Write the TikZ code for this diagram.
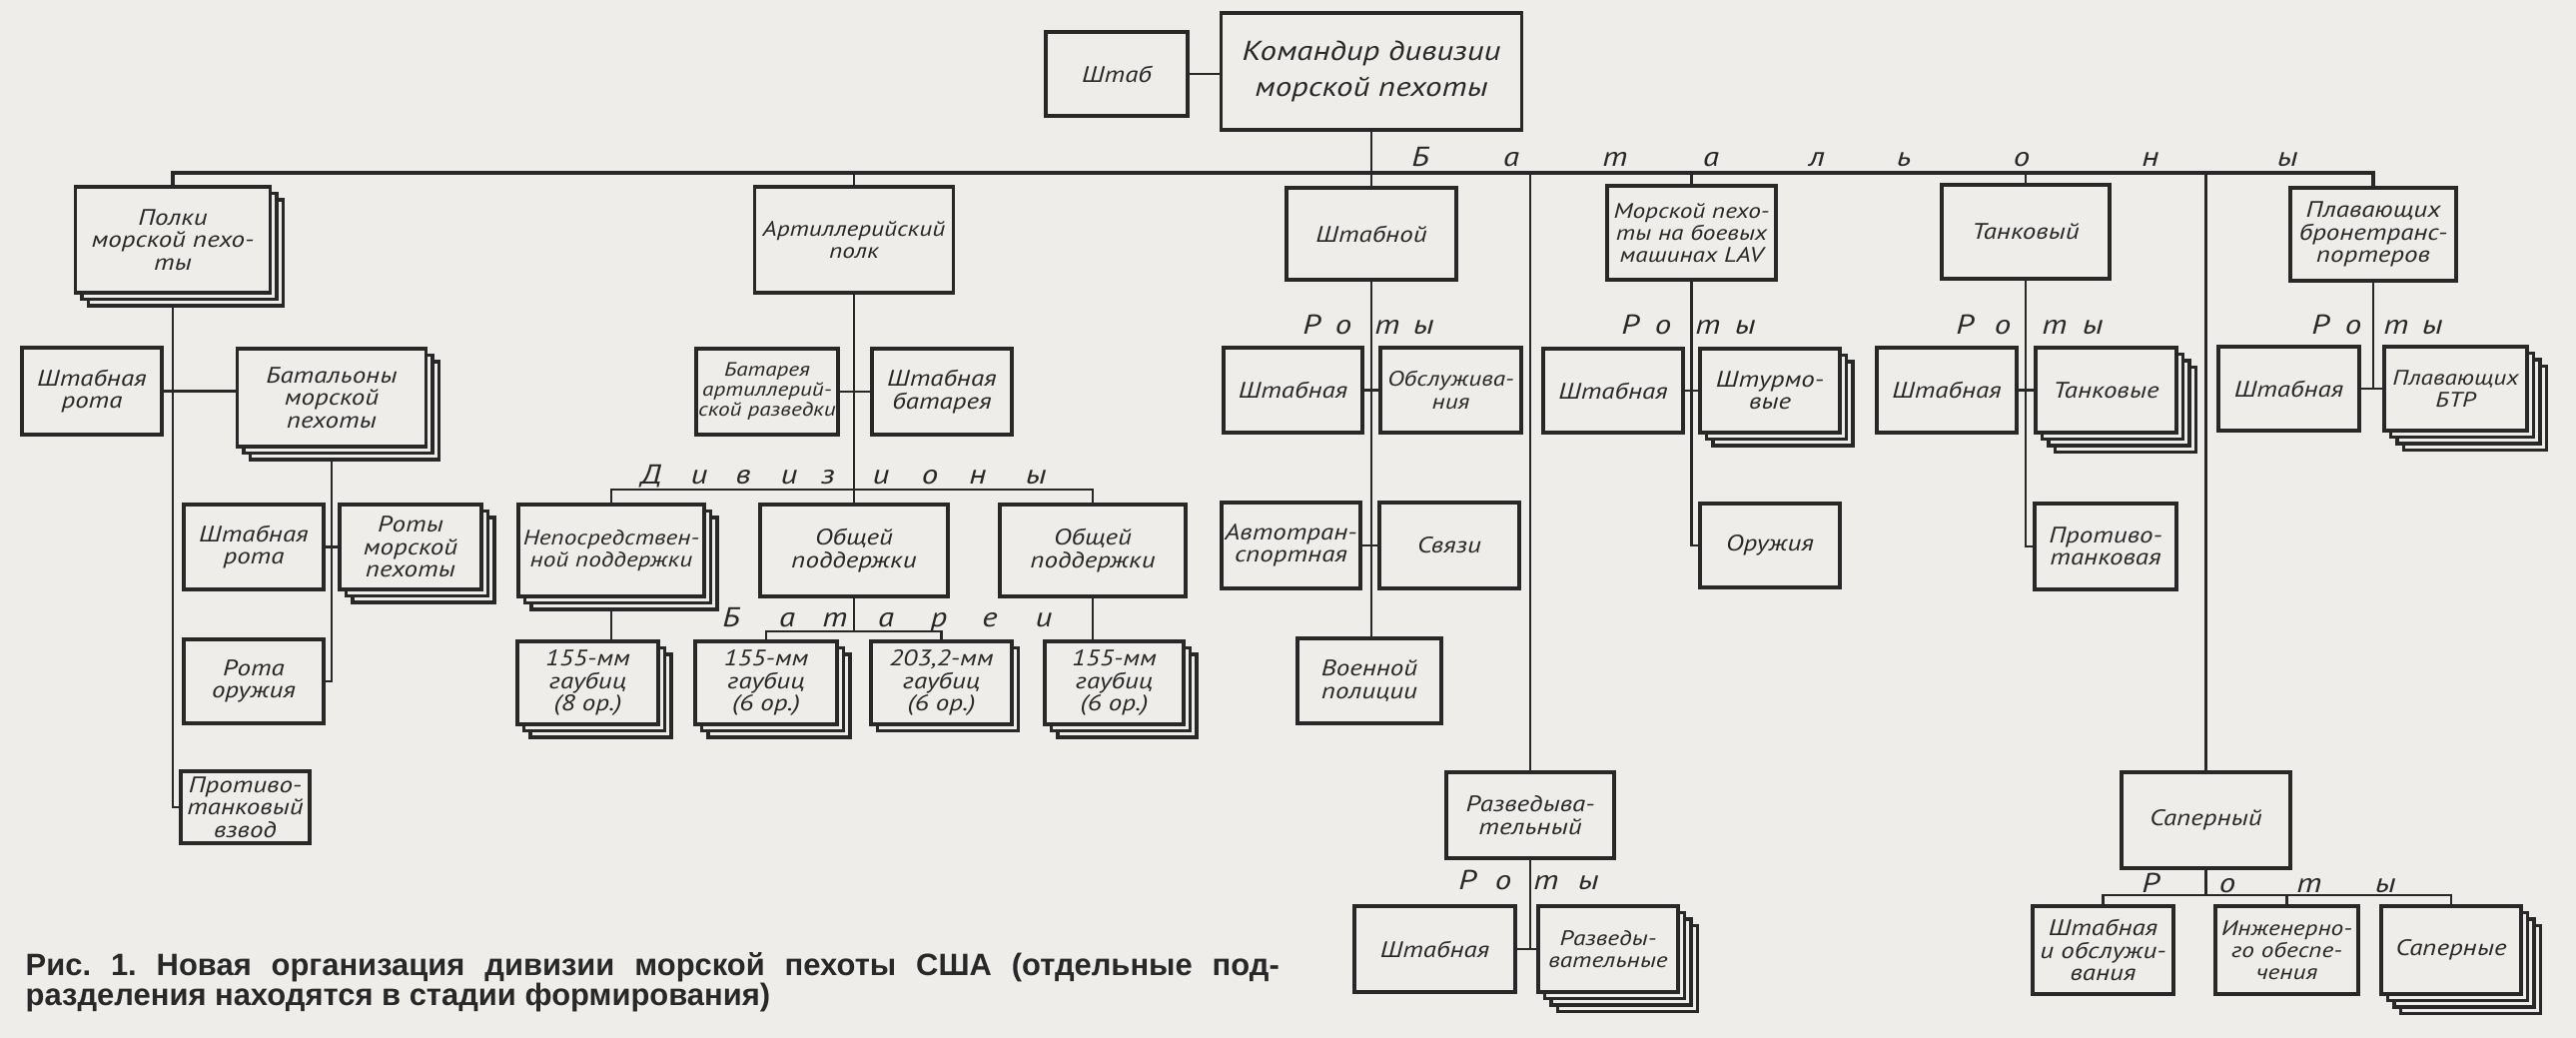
\documentclass[tikz,border=0pt]{standalone}
\usepackage{fontspec}
\usetikzlibrary{shadows}
\newfontfamily\hand[FakeStretch=1.2]{PT Sans}
\newfontfamily\capfont{Liberation Sans}
\definecolor{paper}{RGB}{238,237,234}
\definecolor{ink}{RGB}{40,40,40}
\frenchspacing

\tikzset{
  unit/.style={draw=ink, line width=1pt, fill=paper, text=ink, inner sep=.5pt, align=center,
    font=\hand\itshape\fontsize{6.4}{6.4}\selectfont},
  bigtxt/.style={font=\hand\itshape\fontsize{7.8}{10}\selectfont},
  tighttxt/.style={font=\hand\itshape\fontsize{6}{6.3}\selectfont},
  smalltxt/.style={font=\hand\itshape\fontsize{5.5}{5.7}\selectfont},
  sheet/.style={copy shadow={draw=ink, fill=paper, line width=1pt, shadow xshift=#1, shadow yshift=-#1}},
  pair/.style={sheet=.65mm},
  triple/.style={sheet=1.3mm, sheet=.65mm},
  quad/.style={sheet=1.95mm, sheet=1.3mm, sheet=.65mm},
  tag/.style={text=ink, inner sep=0pt, anchor=base, font=\hand\itshape\fontsize{7.8}{8}\selectfont},
  capt/.style={text=ink, inner sep=0pt, anchor=base west, font=\capfont\bfseries\fontsize{8.8}{9}\selectfont},
  link/.style={draw=ink, line width=.6pt},
  bus/.style={draw=ink, line width=.9pt},
}

\begin{document}
\begin{tikzpicture}[x=0.1mm, y=-0.1mm]

    \useasboundingbox (0,0) rectangle (2579,1039);
    \fill[paper] (0,0) rectangle (2579,1039);

    % =====================
    % Division head
    % =====================
    \node[unit, minimum width=14.2mm, minimum height=8.4mm] (shtab) at (1118,74) {Штаб};
    \node[unit, bigtxt, minimum width=30.1mm, minimum height=11.7mm] (komdiv) at (1373,71.5) {Командир дивизии\\морской пехоты};

    % =====================
    % Regiments and battalions
    % =====================
    \node[unit, triple, minimum width=19.5mm, minimum height=10.6mm] (polki) at (173,240) {Полки\\морской пехо-\\ты};
    \node[unit, tighttxt, minimum width=19.9mm, minimum height=10.6mm] (artpolk) at (855,240) {Артиллерийский\\полк};
    \node[unit, minimum width=17mm, minimum height=9.2mm] (shtabnoy) at (1373,234) {Штабной};
    \node[unit, tighttxt, minimum width=16.9mm, minimum height=9.4mm] (lav) at (1693.5,233) {Морской пехо-\\ты на боевых\\машинах LAV};
    \node[unit, minimum width=16.8mm, minimum height=9.4mm] (tank) at (2028,232) {Танковый};
    \node[unit, minimum width=16.6mm, minimum height=9.3mm] (plav) at (2376,234.5) {Плавающих\\бронетранс-\\портеров};

    % =====================
    % Second row
    % =====================
    \node[unit, minimum width=14mm, minimum height=8.7mm] (p_shr) at (92,391.5) {Штабная\\рота};
    \node[unit, triple, minimum width=18.9mm, minimum height=9.8mm] (p_bat) at (332,398) {Батальоны\\морской\\пехоты};
    \node[unit, smalltxt, minimum width=14.2mm, minimum height=8.6mm] (a_razv) at (768,392) {Батарея\\артиллерий-\\ской разведки};
    \node[unit, minimum width=14mm, minimum height=8.6mm] (a_shb) at (943,392) {Штабная\\батарея};
    \node[unit, minimum width=13.9mm, minimum height=8.5mm] (s_sht) at (1294.5,390.5) {Штабная};
    \node[unit, tighttxt, minimum width=14.1mm, minimum height=8.5mm] (s_obs) at (1452.5,390.5) {Обслужива-\\ния};
    \node[unit, minimum width=14mm, minimum height=8.4mm] (l_sht) at (1615,391) {Штабная};
    \node[unit, triple, minimum width=14mm, minimum height=8.4mm] (l_shturm) at (1772,391) {Штурмо-\\вые};
    \node[unit, minimum width=14mm, minimum height=8.5mm] (t_sht) at (1949,390.5) {Штабная};
    \node[unit, quad, minimum width=14.1mm, minimum height=8.5mm] (t_tank) at (2108.5,390.5) {Танковые};
    \node[unit, minimum width=14.1mm, minimum height=8.4mm] (f_sht) at (2291.5,389) {Штабная};
    \node[unit, quad, tighttxt, minimum width=14.3mm, minimum height=8.4mm] (f_btr) at (2458.5,389) {Плавающих\\БТР};

    % =====================
    % Third row
    % =====================
    \node[unit, minimum width=14mm, minimum height=8.5mm] (b_shr) at (254,547.5) {Штабная\\рота};
    \node[unit, triple, minimum width=14.2mm, minimum height=8.5mm] (b_roty) at (411,547.5) {Роты\\морской\\пехоты};
    \node[unit, triple, tighttxt, minimum width=18.6mm, minimum height=9.2mm] (d_nep) at (612,551) {Непосредствен-\\ной поддержки};
    \node[unit, minimum width=18.8mm, minimum height=9.2mm] (d_ob1) at (855,551) {Общей\\поддержки};
    \node[unit, minimum width=18.6mm, minimum height=9.2mm] (d_ob2) at (1094,551) {Общей\\поддержки};
    \node[unit, minimum width=13.9mm, minimum height=8.6mm] (s_avto) at (1292.5,546) {Автотран-\\спортная};
    \node[unit, minimum width=14mm, minimum height=8.6mm] (s_svy) at (1451,546) {Связи};
    \node[unit, minimum width=14mm, minimum height=8.4mm] (l_oruzh) at (1772,546) {Оружия};
    \node[unit, minimum width=14.2mm, minimum height=8.6mm] (t_ptk) at (2108,547) {Противо-\\танковая};

    % =====================
    % Fourth row
    % =====================
    \node[unit, minimum width=14mm, minimum height=8.4mm] (b_orzh) at (254,682) {Рота\\оружия};
    \node[unit, triple, minimum width=14.1mm, minimum height=8.3mm] (g_1) at (588.5,683.5) {155-мм\\гаубиц\\(8 ор.)};
    \node[unit, triple, minimum width=14.2mm, minimum height=8.3mm] (g_2) at (767,683.5) {155-мм\\гаубиц\\(6 ор.)};
    \node[unit, pair, minimum width=14.1mm, minimum height=8.3mm] (g_3) at (942.5,683.5) {203,2-мм\\гаубиц\\(6 ор.)};
    \node[unit, triple, minimum width=13.9mm, minimum height=8.3mm] (g_4) at (1115.5,683.5) {155-мм\\гаубиц\\(6 ор.)};
    \node[unit, minimum width=14.4mm, minimum height=8.5mm] (s_mp) at (1371,681.5) {Военной\\полиции};

    % =====================
    % Lower units
    % =====================
    \node[unit, minimum width=12.9mm, minimum height=7.2mm] (p_ptv) at (245.5,808) {Противо-\\танковый\\взвод};
    \node[unit, minimum width=16.8mm, minimum height=8.6mm] (razv) at (1532,816) {Разведыва-\\тельный};
    \node[unit, minimum width=16.9mm, minimum height=9.6mm] (saper) at (2208.5,821) {Саперный};
    \node[unit, minimum width=16.1mm, minimum height=8.6mm] (r_sht) at (1436.5,950) {Штабная};
    \node[unit, quad, tighttxt, minimum width=14mm, minimum height=8.6mm] (r_razv) at (1610,950) {Разведы-\\вательные};
    \node[unit, minimum width=14.1mm, minimum height=8.8mm] (e_sht) at (2105.5,951) {Штабная\\и обслужи-\\вания};
    \node[unit, tighttxt, minimum width=14.3mm, minimum height=8.8mm] (e_ing) at (2289.5,951) {Инженерно-\\го обеспе-\\чения};
    \node[unit, quad, minimum width=14mm, minimum height=8.8mm] (e_sap) at (2454,951) {Саперные};

    % =====================
    % Spaced headings
    % =====================
    \foreach \c/\x [count=\i] in {Б/1422,а/1513,т/1617,а/1713,л/1819,ь/1906,о/2024,н/2153,ы/2290}
        \node[tag] (bat\i) at (\x,167) {\c};
    \foreach \c/\x [count=\i] in {Д/652,и/700,в/744,и/790,з/829,и/882,о/931,н/979,ы/1037}
        \node[tag] (div\i) at (\x,485) {\c};
    \foreach \c/\x [count=\i] in {Б/732,а/788,т/836,а/887,р/940,е/991,и/1045}
        \node[tag] (btr\i) at (\x,627) {\c};
    \foreach \c/\x [count=\i] in {Р/1313,о/1345,т/1389,ы/1425}
        \node[tag] (rs\i) at (\x,335) {\c};
    \foreach \c/\x [count=\i] in {Р/1632,о/1665,т/1710,ы/1747}
        \node[tag] (rl\i) at (\x,335) {\c};
    \foreach \c/\x [count=\i] in {Р/1967,о/2005,т/2057,ы/2095}
        \node[tag] (rt\i) at (\x,335) {\c};
    \foreach \c/\x [count=\i] in {Р/2323,о/2356,т/2399,ы/2435}
        \node[tag] (rf\i) at (\x,335) {\c};
    \foreach \c/\x [count=\i] in {Р/1469,о/1505,т/1548,ы/1590}
        \node[tag] (rr\i) at (\x,890) {\c};
    \foreach \c/\x [count=\i] in {Р/2153,о/2230,т/2312,ы/2388}
        \node[tag] (re\i) at (\x,893) {\c};

    % =====================
    % Connectors
    % =====================
    \coordinate (bus) at (0,173);
    \coordinate (bbus) at (0,632);
    \coordinate (sbus) at (0,896);

    \draw[bus] (polki.north) -- (polki.north |- bus) -| (plav.north);
    \draw[link] (shtab.east) -- (shtab.east -| komdiv.west);
    \draw[link] (komdiv.south) -- (komdiv.south |- shtabnoy.north);
    \draw[link] (artpolk.north) -- (artpolk.north |- bus);
    \draw[link] (razv.north) -- (razv.north |- bus);
    \draw[link] (lav.north) -- (lav.north |- bus);
    \draw[link] (tank.north) -- (tank.north |- bus);
    \draw[link] (saper.north) -- (saper.north |- bus);

    % regiments
    \draw[link] ([yshift=-1.3mm]polki.south) |- (p_ptv.west);
    \draw[link] (p_shr.east) -- (p_shr.east -| p_bat.west);
    \draw[link] ([yshift=-1.3mm]p_bat.south) |- (b_orzh.east);
    \draw[link] (b_shr.east) -- (b_roty.west);

    % artillery
    \draw[link] (artpolk.south) -- (artpolk.south |- d_ob1.north);
    \draw[link] (a_razv.east) -- (a_shb.west);
    \draw[link] (d_nep.north) -- ++(0,-13) -| (d_ob2.north);
    \draw[link] ([yshift=-1.3mm]d_nep.south) -- (d_nep.south |- g_1.north);
    \draw[link] (d_ob1.south) -- (d_ob1.south |- bbus);
    \draw[link] (g_2.north) -- (g_2.north |- bbus) -| (g_3.north);
    \draw[link] (d_ob2.south) -- (d_ob2.south |- g_4.north);

    % battalions
    \draw[link] (shtabnoy.south) -- (shtabnoy.south |- s_mp.north);
    \draw[link] (s_sht.east) -- (s_obs.west);
    \draw[link] (s_avto.east) -- (s_svy.west);
    \draw[link] (lav.south) |- (l_oruzh.west);
    \draw[link] (l_sht.east) -- (l_shturm.west);
    \draw[link] (tank.south) |- (t_ptk.west);
    \draw[link] (t_sht.east) -- (t_tank.west);
    \draw[link] (plav.south) -- (plav.south |- f_sht.east);
    \draw[link] (f_sht.east) -- (f_btr.west);
    \draw[link] (razv.south) -- (razv.south |- r_sht.east);
    \draw[link] (r_sht.east) -- (r_razv.west);
    \draw[link] (saper.south) -- (saper.south |- sbus);
    \draw[link] (e_sht.north) -- (e_sht.north |- sbus) -| (e_sap.north);
    \draw[link] (e_ing.north) -- (e_ing.north |- sbus);

    % =====================
    % Caption
    % =====================
    \node[capt] (cap1) at (25,976) {\makebox[125.5mm][s]{Рис. 1. Новая организация дивизии морской пехоты США (отдельные под-}};
    \node[capt] (cap2) at (25,1006) {разделения находятся в стадии формирования)};

\end{tikzpicture}
\end{document}
